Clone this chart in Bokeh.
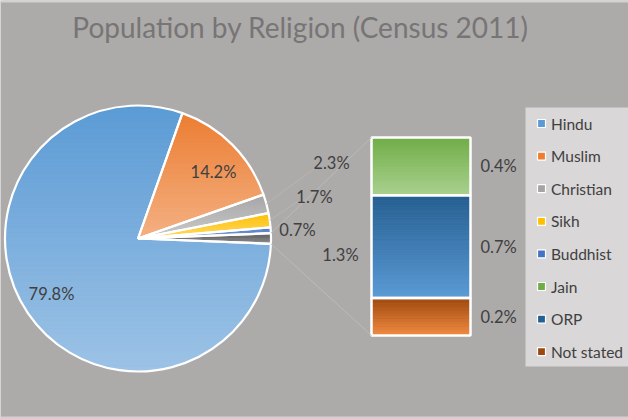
import numpy as np
from bokeh.plotting import figure
from bokeh.models import Range1d, BoxAnnotation
from bokeh.core.properties import value
from bokeh.embed import file_html
from bokeh.resources import INLINE

# ---------------- data ----------------
title = "Population by Religion (Census 2011)"
pie_labels = ["Hindu", "Muslim", "Christian", "Sikh", "Buddhist"]
pie_values = [79.80, 14.23, 2.30, 1.72, 0.70]
bar_labels = ["Jain", "ORP", "Not stated"]
bar_values = [0.37, 0.66, 0.24]
legend_labels = ["Hindu", "Muslim", "Christian", "Sikh", "Buddhist", "Jain", "ORP", "Not stated"]

# gradient colours (top, bottom)
pie_colors = [("#5B9BD5", "#9DC3E6"), ("#ED7D31", "#F4B183"), ("#A5A5A5", "#CBCBCB"),
              ("#FFC000", "#FFD966"), ("#4472C4", "#8FAADC"), ("#595959", "#8C8C8C")]
bar_colors = [("#70AD47", "#A9D18E"), ("#255E91", "#5B9BD5"), ("#9E480E", "#F08A40")]
legend_colors = ["#5B9BD5", "#ED7D31", "#A5A5A5", "#FFC000", "#4472C4", "#70AD47", "#255E91", "#9E480E"]

W, H = 628, 419
BG = "#ADAAAA"
TXT = "#404040"
FONT = "Lato"

def Y(y):  # pixel row (top-down) -> data y (bottom-up)
    return H - y

p = figure(width=W, height=H, output_backend="svg", toolbar_location=None,
           x_range=Range1d(0, W), y_range=Range1d(0, H), min_border=0)
p.axis.visible = False
p.grid.visible = False
p.outline_line_color = None
p.background_fill_color = BG
p.border_fill_color = BG

# frame bands
p.add_layout(BoxAnnotation(bottom=H - 2, top=H, fill_color="#D2D0D0", fill_alpha=1,
                           line_color=None, level="underlay"))
p.add_layout(BoxAnnotation(bottom=0, top=3, fill_color="#D2D0D0", fill_alpha=1,
                           line_color=None, level="underlay"))

# title
p.text(x=[300], y=[Y(26)], text=[title], text_font=value(FONT), text_font_size="28px",
       text_color="#777575", text_align="center", text_baseline="middle")

def hex2rgb(h):
    h = h.lstrip("#")
    return np.array([int(h[i:i + 2], 16) for i in (0, 2, 4)], dtype=float)

def mix(c0, c1, t):
    c = hex2rgb(c0) * (1 - t) + hex2rgb(c1) * t
    return "#%02x%02x%02x" % tuple(int(round(v)) for v in c)

def clip_half(pts, yc, keep_above):
    out = []
    n = len(pts)
    for i in range(n):
        cur, prev = pts[i], pts[i - 1]
        cin = cur[1] >= yc if keep_above else cur[1] <= yc
        pin = prev[1] >= yc if keep_above else prev[1] <= yc
        if cin != pin:
            t = (yc - prev[1]) / (cur[1] - prev[1])
            out.append((prev[0] + t * (cur[0] - prev[0]), yc))
        if cin:
            out.append(cur)
    return out

def gradient_patches(pts, ctop, cbot, step=2.5):
    ys = [q[1] for q in pts]
    ymin, ymax = min(ys), max(ys)
    n = max(3, int((ymax - ymin) / step))
    h = (ymax - ymin) / n
    xs_l, ys_l, cols = [], [], []
    for k in range(n):
        yhi = ymax - k * h
        ylo = ymax - (k + 1) * h
        band = clip_half(pts, ylo, True)
        band = clip_half(band, yhi, False)
        if len(band) < 3:
            continue
        xs_l.append([q[0] for q in band])
        ys_l.append([q[1] for q in band])
        cols.append(mix(ctop, cbot, (k + 0.5) / n))
    return xs_l, ys_l, cols

# ---------------- pie ----------------
cx, cy, R = 137.5, Y(238), 133
all_pie = pie_values + [sum(bar_values)]
total = sum(all_pie)
deg = [v / total * 360 for v in all_pie]
t0 = -deg[-1] / 2
starts, ends = [], []
cum = 0
for d in deg:
    starts.append(np.radians(t0 - (cum + d)))
    ends.append(np.radians(t0 - cum))
    cum += d

PX, PY, PC = [], [], []
for a0, a1, (ct, cb) in zip(starts, ends, pie_colors):
    ang = np.linspace(a0, a1, max(4, int(np.degrees(a1 - a0) * 2)))
    pts = [(cx, cy)] + [(cx + R * np.cos(a), cy + R * np.sin(a)) for a in ang]
    xs_l, ys_l, cols = gradient_patches(pts, ct, cb)
    PX += xs_l; PY += ys_l; PC += cols
p.patches(PX, PY, fill_color=PC, line_color=PC, line_width=0.8)
p.wedge(x=cx, y=cy, radius=R, start_angle=starts, end_angle=ends,
        fill_alpha=0, line_color="white", line_width=2.2)

# ---------------- bar ----------------
bx0, bx1 = 371, 470
bbot, bheight = Y(335), 198
scale = bheight / sum(bar_values)
# stacked bottom-up: Not stated, ORP, Jain
tops, bots = [], []
acc = bbot
for v in reversed(bar_values):
    bots.append(acc)
    acc += v * scale
    tops.append(acc)
tops = tops[::-1]; bots = bots[::-1]
BX, BY, BC = [], [], []
for tp, bt, (ct, cb) in zip(tops, bots, bar_colors):
    pts = [(bx0, bt), (bx1, bt), (bx1, tp), (bx0, tp)]
    xs_l, ys_l, cols = gradient_patches(pts, ct, cb)
    BX += xs_l; BY += ys_l; BC += cols
p.patches(BX, BY, fill_color=BC, line_color=BC, line_width=0.8)
p.quad(left=bx0, right=bx1, top=tops, bottom=bots, fill_alpha=0,
       line_color="white", line_width=2.5)

# connectors from "other" slice to bar
oa0, oa1 = starts[-1], ends[-1]
p.segment(x0=[cx + R * np.cos(oa1), cx + R * np.cos(oa0)],
          y0=[cy + R * np.sin(oa1), cy + R * np.sin(oa0)],
          x1=[bx0, bx0], y1=[tops[0], bots[-1]], line_color="#BDBABA", line_width=1)

# ---------------- labels ----------------
fmt = lambda v: f"{v:.1f}%"
# inside labels
p.text(x=[51, 213], y=[Y(293), Y(171)], text=[fmt(all_pie[0]), fmt(all_pie[1])],
       text_font=value(FONT), text_font_size="16.5px", text_color=TXT,
       text_align="center", text_baseline="middle")
# outside labels
out_pos = [(331, 162), (314, 196), (297, 229), (340, 254)]
p.text(x=[q[0] for q in out_pos], y=[Y(q[1]) for q in out_pos],
       text=[fmt(v) for v in all_pie[2:]], text_font=value(FONT), text_font_size="16.5px",
       text_color=TXT, text_align="center", text_baseline="middle")
# faint leader lines
mid = [(s + e) / 2 for s, e in zip(starts, ends)]
p.segment(x0=[cx + R * np.cos(mid[2]), cx + R * np.cos(mid[3])],
          y0=[cy + R * np.sin(mid[2]), cy + R * np.sin(mid[3])],
          x1=[314, 297], y1=[Y(168), Y(201)], line_color="#B8B5B5", line_width=1)
# bar labels
p.text(x=[480] * 3, y=[(t + b) / 2 for t, b in zip(tops, bots)],
       text=[fmt(v) for v in bar_values], text_font=value(FONT), text_font_size="16.5px",
       text_color=TXT, text_align="left", text_baseline="middle")

# ---------------- legend ----------------
p.add_layout(BoxAnnotation(left=525, right=W + 5, top=Y(107), bottom=Y(366),
                           fill_color="#D9D7D7", fill_alpha=1, line_color="#C2C0C0",
                           line_width=1, level="underlay"))
ly = [Y(123 + i * 32.6) for i in range(len(legend_labels))]
p.scatter(x=[541] * len(ly), y=ly, marker="square", size=8, fill_color=legend_colors,
          line_color="white", line_width=1.2)
p.text(x=[550.5] * len(ly), y=ly, text=legend_labels, text_font=value(FONT),
       text_font_size="15.5px", text_color=TXT, text_align="left", text_baseline="middle")

open("out.html", "w").write(file_html(p, INLINE))
